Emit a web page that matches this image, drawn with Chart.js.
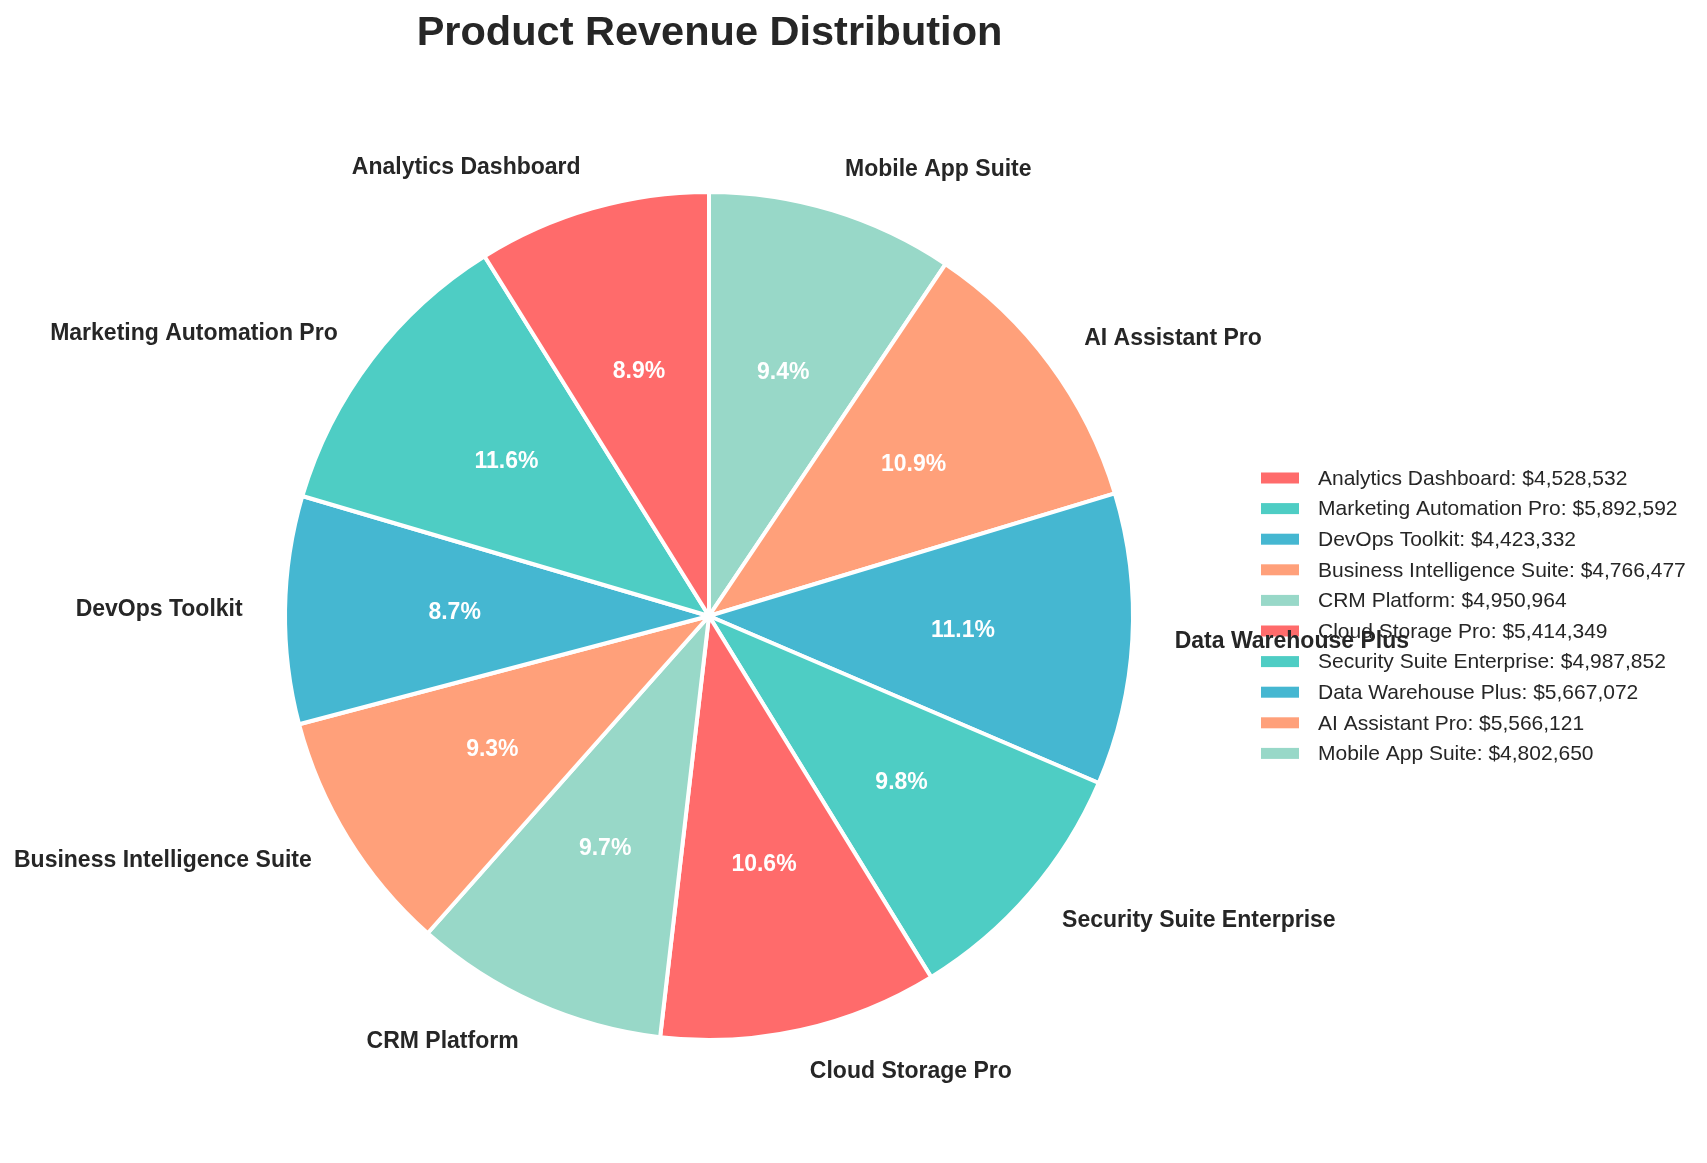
<!DOCTYPE html>
<html>
<head>
<meta charset="utf-8">
<script src="https://cdn.jsdelivr.net/npm/chart.js@4.4.1/dist/chart.umd.min.js"></script>
<style>
  html, body { margin: 0; padding: 0; background: #ffffff; }
  #wrap { width: 1707px; height: 1163px; position: relative; }
  canvas { display: block; }
</style>
</head>
<body>
<div id="wrap"><canvas id="c" width="1707" height="1163"></canvas></div>
<script>
const TITLE = 'Product Revenue Distribution';
const products = [
  'Analytics Dashboard',
  'Marketing Automation Pro',
  'DevOps Toolkit',
  'Business Intelligence Suite',
  'CRM Platform',
  'Cloud Storage Pro',
  'Security Suite Enterprise',
  'Data Warehouse Plus',
  'AI Assistant Pro',
  'Mobile App Suite'
];
const revenue = [4528532, 5892592, 4423332, 4766477, 4950964, 5414349, 4987852, 5667072, 5566121, 4802650];
const colors = ['#FF6B6B', '#4ECDC4', '#45B7D1', '#FFA07A', '#98D8C8', '#FF6B6B', '#4ECDC4', '#45B7D1', '#FFA07A', '#98D8C8'];

// matplotlib draws counter-clockwise from the top; Chart.js draws clockwise,
// so feed the slices in reverse order.
const chartLabels = products.slice().reverse();
const chartValues = revenue.slice().reverse();
const chartColors = colors.slice().reverse();

const FONT = '"Liberation Sans", Arial, Helvetica, sans-serif';
const TEXT = '#262626';
const total = revenue.reduce((a, b) => a + b, 0);
const fmtMoney = v => '$' + v.toLocaleString('en-US');

const decor = {
  id: 'decor',
  afterDatasetsDraw(chart) {
    const ctx = chart.ctx;
    const meta = chart.getDatasetMeta(0);
    ctx.save();
    // Legend (drawn first; slice labels sit on top)
    const lx = 1261, ly0 = 478, step = 30.6;
    ctx.font = '21px ' + FONT;
    ctx.textAlign = 'left';
    ctx.textBaseline = 'middle';
    products.forEach((p, i) => {
      const y = ly0 + i * step;
      ctx.fillStyle = colors[i];
      ctx.fillRect(lx, y - 5.5, 38, 11);
      ctx.fillStyle = TEXT;
      ctx.fillText(p + ': ' + fmtMoney(revenue[i]), 1318, y + 1);
    });
    // Slice labels and percentages
    meta.data.forEach((arc, i) => {
      const p = arc.getProps(['x', 'y', 'startAngle', 'endAngle', 'outerRadius'], true);
      const mid = (p.startAngle + p.endAngle) / 2;
      const r = p.outerRadius;
      const lxp = p.x + Math.cos(mid) * r * 1.1;
      const lyp = p.y + Math.sin(mid) * r * 1.1;
      ctx.font = 'bold 23px ' + FONT;
      ctx.fillStyle = TEXT;
      ctx.textAlign = (lxp - p.x) > 0 ? 'left' : 'right';
      ctx.textBaseline = 'middle';
      ctx.fillText(chartLabels[i], lxp, lyp);
      const px = p.x + Math.cos(mid) * r * 0.6;
      const py = p.y + Math.sin(mid) * r * 0.6;
      ctx.fillStyle = '#ffffff';
      ctx.textAlign = 'center';
      ctx.fillText((chartValues[i] / total * 100).toFixed(1) + '%', px, py);
    });
    // Title
    ctx.font = 'bold 41.5px ' + FONT;
    ctx.fillStyle = TEXT;
    ctx.textAlign = 'center';
    ctx.textBaseline = 'alphabetic';
    ctx.fillText(TITLE, 709.5, 45);
    ctx.restore();
  }
};

new Chart(document.getElementById('c'), {
  type: 'pie',
  data: {
    labels: chartLabels,
    datasets: [{
      data: chartValues,
      backgroundColor: chartColors,
      borderColor: '#ffffff',
      borderWidth: 4
    }]
  },
  options: {
    responsive: false,
    animation: false,
    layout: { padding: { left: 283, right: 572, top: 190, bottom: 121 } },
    plugins: {
      legend: { display: false },
      title: { display: false },
      tooltip: { enabled: false }
    }
  },
  plugins: [decor]
});
</script>
</body>
</html>
